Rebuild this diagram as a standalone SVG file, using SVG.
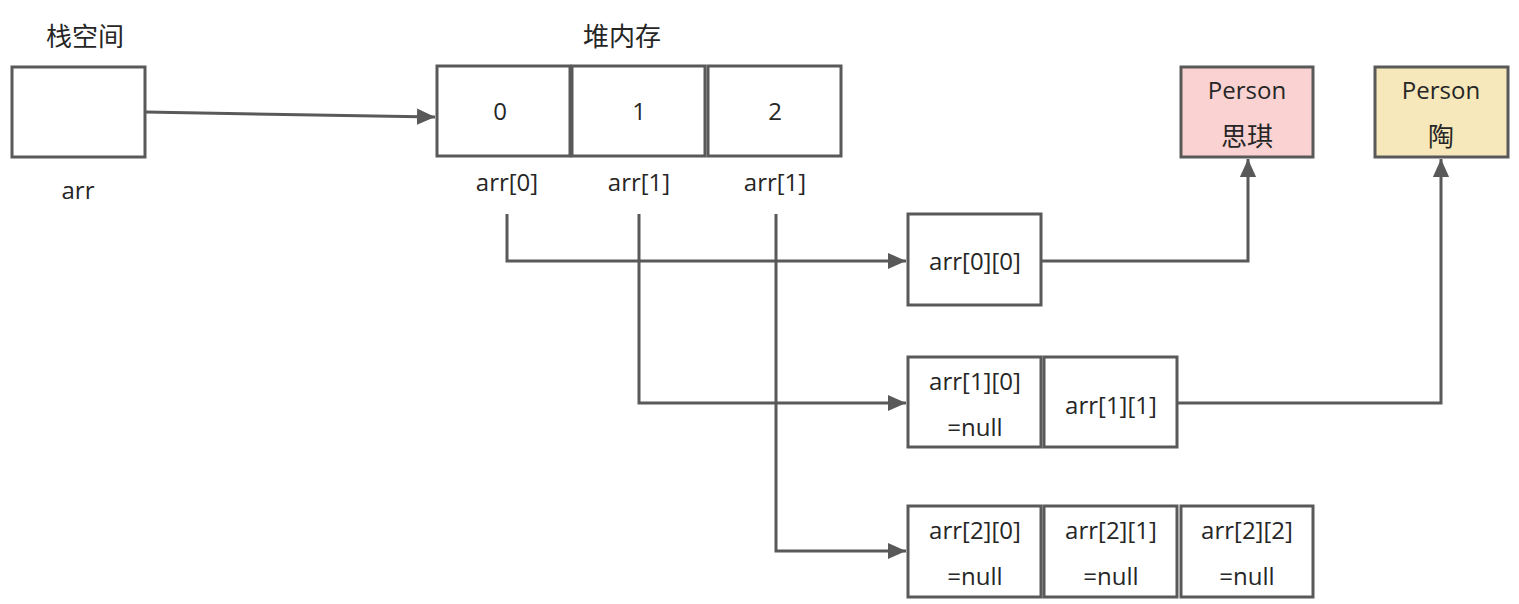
<svg xmlns="http://www.w3.org/2000/svg" width="1519" height="604" viewBox="0 0 1519 604">
<style>
.b{fill:#ffffff;stroke:#595959;stroke-width:3}
.t{font-family:"Open Sans","Noto Sans CJK SC",sans-serif;font-size:24px;fill:#262626;text-anchor:middle;dominant-baseline:central}
.k{font-size:26px}
.c{fill:none;stroke:#595959;stroke-width:3}
</style>
<defs>
<marker id="a" viewBox="0 0 10 10" refX="10" refY="5" markerWidth="6" markerHeight="6" orient="auto"><path d="M0,0.5 L10,5 L0,9.5 Z" fill="#595959"/></marker>
</defs>
<g id="labels">
<text class="t k" x="85" y="36">栈空间</text>
<text class="t k" x="622" y="36">堆内存</text>
</g>
<g id="stack"><rect class="b" x="12" y="67" width="133" height="90"/><text class="t" x="78" y="189">arr</text></g>
<g id="heap0"><rect class="b" x="437" y="66" width="133" height="90"/><text class="t" x="500" y="110">0</text><text class="t" x="507" y="181">arr[0]</text></g>
<g id="heap1"><rect class="b" x="572" y="66" width="133" height="90"/><text class="t" x="639" y="110">1</text><text class="t" x="639" y="181">arr[1]</text></g>
<g id="heap2"><rect class="b" x="708" y="66" width="133" height="90"/><text class="t" x="775" y="110">2</text><text class="t" x="775" y="181">arr[1]</text></g>
<g id="p1"><rect class="b" x="1181" y="67" width="132" height="90" style="fill:#f9d2d1"/><text class="t" x="1247" y="89">Person</text><text class="t k" x="1247" y="136">思琪</text></g>
<g id="p2"><rect class="b" x="1375" y="67" width="133" height="90" style="fill:#f7e8bb"/><text class="t" x="1441" y="89">Person</text><text class="t k" x="1441" y="136">陶</text></g>
<g id="a00"><rect class="b" x="908" y="214" width="133" height="91"/><text class="t" x="975" y="260">arr[0][0]</text></g>
<g id="a10"><rect class="b" x="908" y="357" width="133" height="90"/><text class="t" x="975" y="380">arr[1][0]</text><text class="t" x="975" y="426">=null</text></g>
<g id="a11"><rect class="b" x="1044" y="357" width="133" height="90"/><text class="t" x="1111" y="404">arr[1][1]</text></g>
<g id="a20"><rect class="b" x="908" y="506" width="133" height="91"/><text class="t" x="975" y="529">arr[2][0]</text><text class="t" x="975" y="575">=null</text></g>
<g id="a21"><rect class="b" x="1044" y="506" width="133" height="91"/><text class="t" x="1111" y="529">arr[2][1]</text><text class="t" x="1111" y="575">=null</text></g>
<g id="a22"><rect class="b" x="1181" y="506" width="132" height="91"/><text class="t" x="1247" y="529">arr[2][2]</text><text class="t" x="1247" y="575">=null</text></g>
<g id="connectors">
<path class="c" d="M145,112 L435,117" marker-end="url(#a)"/>
<path class="c" d="M507,214 L507,261 L906,261" marker-end="url(#a)"/>
<path class="c" d="M639,214 L639,403 L906,403" marker-end="url(#a)"/>
<path class="c" d="M776,214 L776,551 L906,551" marker-end="url(#a)"/>
<path class="c" d="M1041,261 L1248,261 L1248,159" marker-end="url(#a)"/>
<path class="c" d="M1177,403 L1441,403 L1441,159" marker-end="url(#a)"/>
</g>
</svg>
